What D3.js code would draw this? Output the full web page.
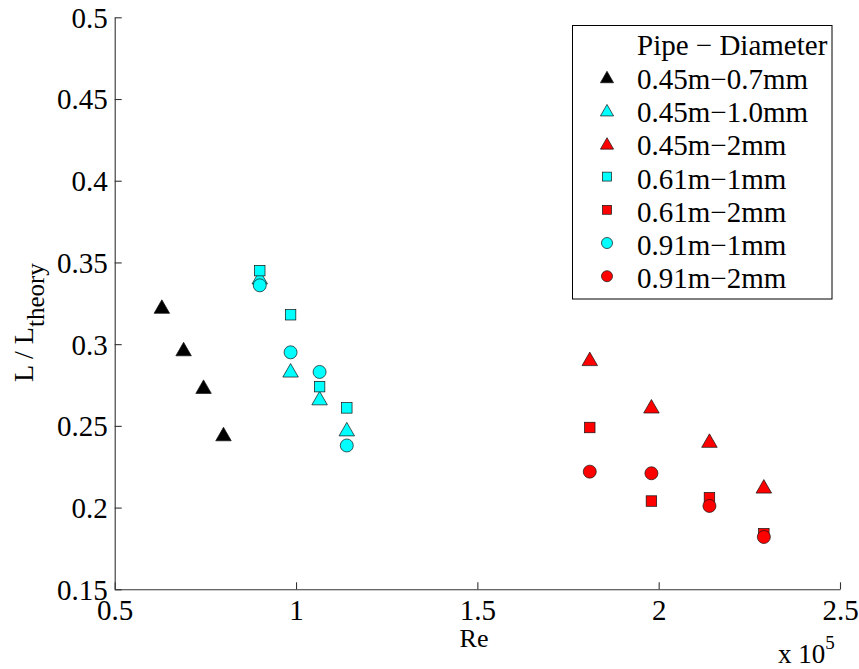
<!DOCTYPE html>
<html>
<head>
<meta charset="utf-8">
<script src="https://cdn.jsdelivr.net/npm/d3@7"></script>
<style>
  html, body { margin: 0; padding: 0; background: #fff; }
  svg text { font-family: "Liberation Serif", "Tinos", "Times New Roman", Times, "DejaVu Serif", serif; }
</style>
</head>
<body>
<svg id="chart" width="859" height="669"></svg>
<script>
// Reynolds number (x 10^5) and normalised length L / L_theory for each pipe / roughness series
const seriesNames = ["0.45m\u22120.7mm", "0.45m\u22121.0mm", "0.45m\u22122mm", "0.61m\u22121mm", "0.61m\u22122mm", "0.91m\u22121mm", "0.91m\u22122mm"];
const seriesColors = ["#000000", "#00FFFF", "#FF0000", "#00FFFF", "#FF0000", "#00FFFF", "#FF0000"];
const seriesShapes = ["triangle", "triangle", "triangle", "square", "square", "circle", "circle"];

const reBlack = [0.63, 0.69, 0.745, 0.80];
const reCyan  = [0.90, 0.985, 1.065, 1.14];
const reRed   = [1.81, 1.98, 2.14, 2.29];

const pipe045_07 = [0.323, 0.297, 0.274, 0.245];
const pipe045_10 = [0.341, 0.284, 0.267, 0.248];
const pipe045_20 = [0.291, 0.262, 0.241, 0.213];
const pipe061_10 = [0.345, 0.318, 0.274, 0.261];
const pipe061_20 = [0.249, 0.204, 0.206, 0.184];
const pipe091_10 = [0.336, 0.295, 0.283, 0.238];
const pipe091_20 = [0.222, 0.221, 0.201, 0.182];

const seriesX = [reBlack, reCyan, reRed, reCyan, reRed, reCyan, reRed];
const seriesY = [pipe045_07, pipe045_10, pipe045_20, pipe061_10, pipe061_20, pipe091_10, pipe091_20];

const xTicks = [0.5, 1, 1.5, 2, 2.5];
const yTicks = [0.15, 0.2, 0.25, 0.3, 0.35, 0.4, 0.45, 0.5];

const serif = '"Liberation Serif", "Tinos", "Times New Roman", Times, "DejaVu Serif", serif';
const svg = d3.select("#chart").attr("font-family", serif);
const plotLeft = 114.7, plotRight = 840, plotTop = 17.3, plotBottom = 589.3;

const x = d3.scaleLinear().domain([0.5, 2.5]).range([plotLeft, plotRight]);
const y = d3.scaleLinear().domain([0.15, 0.5]).range([plotBottom, plotTop]);

const tickFont = 29;

// Axes (box off, ticks pointing inward)
const xAxis = d3.axisBottom(x).tickValues(xTicks).tickSize(-7).tickSizeOuter(0)
  .tickFormat(d3.format("~g")).tickPadding(11);
const yAxis = d3.axisLeft(y).tickValues(yTicks).tickSize(-7).tickSizeOuter(0)
  .tickFormat(d3.format("~g")).tickPadding(7);

const gx = svg.append("g").attr("transform", `translate(0,${plotBottom})`).call(xAxis);
const gy = svg.append("g").attr("transform", `translate(${plotLeft},0)`).call(yAxis);

[gx, gy].forEach(g => {
  g.attr("font-family", serif).attr("font-size", tickFont);
  g.selectAll(".domain").attr("stroke", "#333").attr("stroke-width", 1.1);
  g.selectAll(".tick line").attr("stroke", "#333").attr("stroke-width", 1.1);
  g.selectAll(".tick text").attr("fill", "#000");
});
gy.selectAll(".tick text").attr("dy", "0.34em");
gx.selectAll(".tick text").attr("dy", "0.68em");

// Marker drawing helpers
function triPath(cx, cy, w, h) {
  return `M${cx},${cy - h / 2}L${cx + w / 2},${cy + h / 2}L${cx - w / 2},${cy + h / 2}Z`;
}
function drawMarker(g, shape, cx, cy, color, scale) {
  const s = scale || 1;
  const edge = "#111";
  if (shape === "triangle") {
    g.append("path").attr("d", triPath(cx, cy, 15.5 * s, 13.5 * s))
      .attr("fill", color).attr("stroke", edge).attr("stroke-width", 0.7);
  } else if (shape === "square") {
    const a = 10.5 * s;
    g.append("rect").attr("x", cx - a / 2).attr("y", cy - a / 2).attr("width", a).attr("height", a)
      .attr("fill", color).attr("stroke", edge).attr("stroke-width", 0.7);
  } else {
    g.append("circle").attr("cx", cx).attr("cy", cy).attr("r", 6.5 * s)
      .attr("fill", color).attr("stroke", edge).attr("stroke-width", 0.7);
  }
}

// Data points, series drawn in legend order
const marks = svg.append("g");
seriesNames.forEach((name, i) => {
  const g = marks.append("g").attr("class", "series");
  seriesX[i].forEach((xv, j) => {
    drawMarker(g, seriesShapes[i], x(xv), y(seriesY[i][j]), seriesColors[i], 1);
  });
});

// Axis labels
svg.append("text").attr("x", 474).attr("y", 647).attr("text-anchor", "middle")
  .attr("font-size", 26).text("Re");

const xm = svg.append("text").attr("x", 778).attr("y", 663).attr("font-size", 27);
xm.append("tspan").text("x 10");
xm.append("tspan").attr("dy", -14).attr("font-size", 19).text("5");

const yl = svg.append("text").attr("transform", "translate(33,382) rotate(-90)")
  .attr("font-size", 28);
yl.append("tspan").text("L / L");
yl.append("tspan").attr("dy", 11).attr("font-size", 25).text("theory");

// Legend
const lg = svg.append("g");
lg.append("rect").attr("x", 572.5).attr("y", 25.5).attr("width", 259.5).attr("height", 273.5)
  .attr("fill", "#fff").attr("stroke", "#000").attr("stroke-width", 1);
lg.append("text").attr("x", 637).attr("y", 55).attr("font-size", tickFont).text("Pipe \u2212 Diameter");
seriesNames.forEach((name, i) => {
  const by = 89 + 33.2 * i;
  drawMarker(lg, seriesShapes[i], 607, by - 12, seriesColors[i], 0.85);
  lg.append("text").attr("x", 637).attr("y", by).attr("font-size", tickFont).text(name);
});
</script>
</body>
</html>
